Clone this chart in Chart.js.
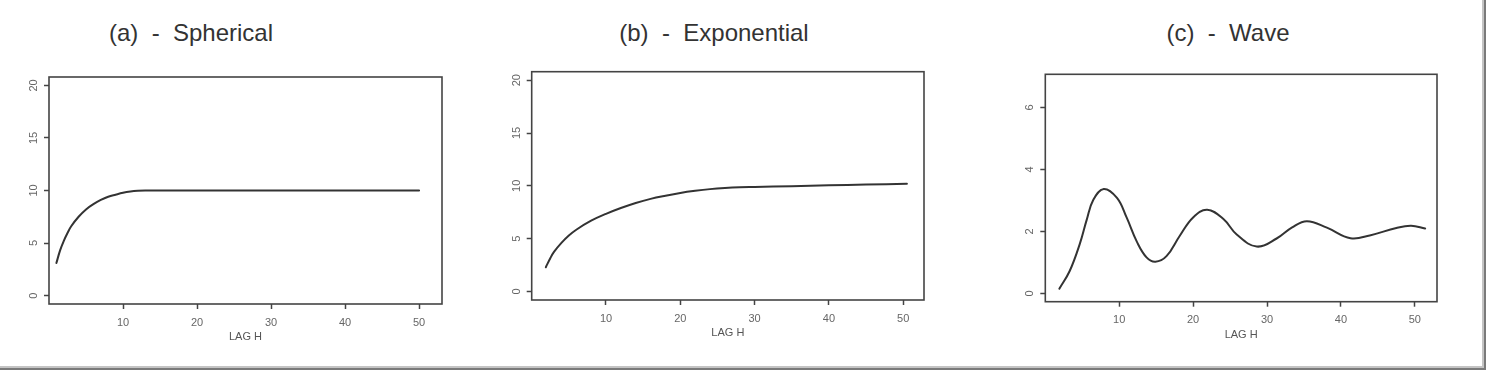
<!DOCTYPE html>
<html><head><meta charset="utf-8">
<script src="https://cdn.jsdelivr.net/npm/chart.js@4/dist/chart.umd.min.js"></script>
<style>
html,body{margin:0;padding:0;background:#fff;width:1488px;height:371px;overflow:hidden;position:relative;font-family:"Liberation Sans",Arial,sans-serif}
.frame{position:absolute;left:0;top:0;width:1482px;height:366px;border-right:2px solid #c4c4c4;border-bottom:2px solid #c4c4c4}
.frame2{position:absolute;left:0;top:0;width:1484px;height:368px;border-right:2px solid #7a7a7a;border-bottom:2px solid #7a7a7a}
.title{position:absolute;top:21px;width:300px;text-align:center;font-size:24px;line-height:24px;color:#333;white-space:pre}
canvas{position:absolute;top:60px}
</style></head>
<body>
<div class="frame"></div><div class="frame2"></div>
<div class="title" style="left:41px">(a)  -  Spherical</div>
<div class="title" style="left:564px">(b)  -  Exponential</div>
<div class="title" style="left:1078px">(c)  -  Wave</div>
<canvas id="ca" width="470" height="300" style="left:0px"></canvas>
<canvas id="cb" width="470" height="300" style="left:480px"></canvas>
<canvas id="cc" width="470" height="300" style="left:995px"></canvas>
<script>
// ---- data ----
const xTicks = [10, 20, 30, 40, 50];
const yTicksAB = [0, 5, 10, 15, 20];
const yTicksC = [0, 2, 4, 6];
const xLabel = 'LAG H';

const sphLag = [1, 1.5, 2, 2.5, 3, 4, 5, 6, 7, 8, 9, 10, 11, 12, 13, 20, 30, 40, 50];
const sphVal = [3.1, 4.3, 5.2, 5.95, 6.6, 7.5, 8.2, 8.7, 9.1, 9.4, 9.6, 9.78, 9.9, 9.97, 10, 10, 10, 10, 10];

const expLag = [1.9, 2.5, 3, 4, 5, 6, 8, 10, 12, 14, 16, 18, 20, 22, 24, 26, 28, 30, 35, 40, 45, 50.5];
const expVal = [2.3, 3.15, 3.75, 4.6, 5.3, 5.85, 6.7, 7.35, 7.9, 8.38, 8.77, 9.07, 9.33, 9.53, 9.69, 9.8, 9.87, 9.9, 9.97, 10.05, 10.12, 10.2];

const wavLag = [1.9, 3.3, 4.7, 5.6, 6.5, 7.9, 9.7, 11.0, 12.4, 13.7, 14.9, 16.4, 18.2, 20.0, 21.9, 24.1, 25.9, 28.6, 31.3, 33.4, 35.4, 38.1, 41.3, 43.9, 47.5, 49.5, 51.4];
const wavVal = [0.15, 0.72, 1.62, 2.37, 3.02, 3.37, 3.08, 2.45, 1.66, 1.16, 1.02, 1.2, 1.86, 2.45, 2.70, 2.4, 1.9, 1.51, 1.77, 2.13, 2.33, 2.12, 1.78, 1.87, 2.11, 2.18, 2.09];

const FONT = '"Liberation Sans", Arial, sans-serif';

const boxPlugin = {
  id: 'box',
  afterDatasetsDraw(chart) {
    const a = chart.chartArea, ctx = chart.ctx;
    ctx.save();
    ctx.strokeStyle = '#444';
    ctx.lineWidth = 1.6;
    ctx.strokeRect(a.left, a.top, a.right - a.left, a.bottom - a.top);
    ctx.restore();
  }
};

function makeChart(id, lags, vals, o) {
  new Chart(document.getElementById(id), {
    type: 'line',
    data: {
      datasets: [{
        data: lags.map((x, i) => ({ x: x, y: vals[i] })),
        borderColor: '#333',
        borderWidth: 2,
        pointRadius: 0,
        fill: false,
        tension: 0.4,
        borderJoinStyle: 'round',
        borderCapStyle: 'round'
      }]
    },
    options: {
      responsive: false,
      animation: false,
      layout: { padding: o.pad },
      plugins: { legend: { display: false }, tooltip: { enabled: false }, title: { display: false } },
      scales: {
        x: {
          type: 'linear', min: o.xmin, max: o.xmax,
          afterBuildTicks: s => { s.ticks = xTicks.map(v => ({ value: v })); },
          afterFit: s => { s.height = 46; },
          border: { display: false },
          grid: { drawOnChartArea: false, drawTicks: true, tickLength: 5, tickColor: '#444', tickWidth: 1.5 },
          ticks: { font: { size: 11, family: FONT }, color: '#666', padding: 7, maxRotation: 0, autoSkip: false },
          title: { display: true, text: xLabel, font: { size: 11, family: FONT }, color: '#555', padding: { top: 0, bottom: 6 } }
        },
        y: {
          type: 'linear', min: o.ymin, max: o.ymax,
          afterBuildTicks: s => { s.ticks = o.yTicks.map(v => ({ value: v })); },
          afterFit: s => { s.width = 40; },
          border: { display: false },
          grid: { drawOnChartArea: false, drawTicks: true, tickLength: 5, tickColor: '#444', tickWidth: 1.5 },
          ticks: { font: { size: 11, family: FONT }, color: '#666', padding: o.ypad, minRotation: 90, maxRotation: 90, crossAlign: 'center', autoSkip: false }
        }
      }
    },
    plugins: [boxPlugin]
  });
}

makeChart('ca', sphLag, sphVal, { xmin: 0, xmax: 53.1, ymin: -0.8, ymax: 20.8, yTicks: yTicksAB, ypad: 4,
  pad: { left: 9, right: 28, top: 17, bottom: 10 } });
makeChart('cb', expLag, expVal, { xmin: 0, xmax: 52.8, ymin: -0.8, ymax: 20.8, yTicks: yTicksAB, ypad: 4,
  pad: { left: 11.7, right: 26, top: 11.7, bottom: 14 } });
makeChart('cc', wavLag, wavVal, { xmin: 0, xmax: 53, ymin: -0.27, ymax: 7.07, yTicks: yTicksC, ypad: 7,
  pad: { left: 10.3, right: 28, top: 14.3, bottom: 12.3 } });
</script>
</body></html>
